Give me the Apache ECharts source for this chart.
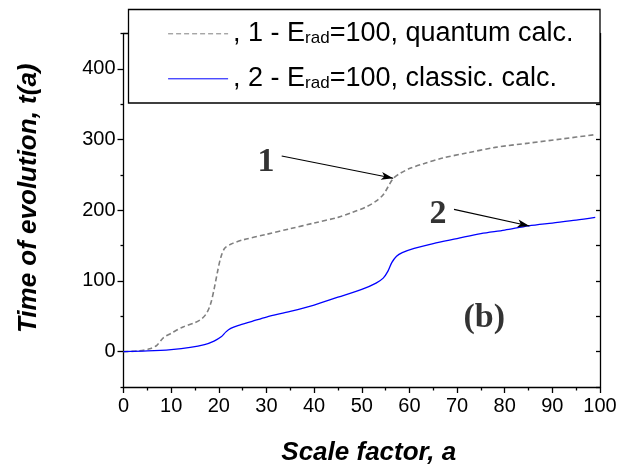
<!DOCTYPE html>
<html>
<head>
<meta charset="utf-8">
<script src="https://cdn.jsdelivr.net/npm/echarts@6/dist/echarts.min.js"></script>
<style>
html,body{margin:0;padding:0;background:#fff;}
#chart{width:629px;height:468px;}
</style>
</head>
<body>
<div id="chart"></div>
<script>
// ---- data ----
const quantumA = [0, 3, 5.5, 7, 8.4, 10, 12.5, 15, 16.5, 17.5, 18.3, 19, 19.7, 20.4, 21.2, 22.5, 25, 30, 35, 40, 45, 48, 51, 53, 54.5, 55.5, 56.6, 58, 60, 63, 67, 72, 78, 85, 92, 99];
const quantumT = [0, 1, 4, 9, 20, 26, 35, 41, 47, 55, 68, 88, 112, 133, 146, 152, 158, 166, 174, 182, 190, 197, 205, 213, 222, 233, 245, 252, 259, 266, 274, 281, 289, 295, 301, 307];
const classicA = [0, 5, 10, 14, 17, 19, 20.5, 21.5, 22.5, 24, 27, 30, 35, 40, 45, 50, 53, 54.5, 55.5, 56.3, 57.3, 58.5, 61, 65, 70, 75, 80, 85, 90, 95, 99];
const classicT = [0, 1, 3, 6, 10, 15, 21, 28, 33, 37, 43, 49, 57, 66, 77, 88, 97, 104, 114, 126, 135, 140, 146, 153, 160, 167, 172, 178, 182, 186, 190];
const seriesNames = ['quantum', 'classic'];
const legendLabels = [', 1 - E{sub|rad}=100, quantum calc.', ', 2 - E{sub|rad}=100, classic. calc.'];
const xTickValues = [0, 10, 20, 30, 40, 50, 60, 70, 80, 90, 100];
const yLabelValues = [0, 100, 200, 300, 400];
const yMinorValues = [-50, 50, 150, 250, 350, 450];
const annotationTexts = ['1', '2', '(b)'];
const annotationA = [29.9, 66, 75.7];
const annotationT = [268, 195, 48];
const arrowFromA = [33.2, 69.36];
const arrowFromT = [276.8, 201.4];
const arrowToA = [56.6, 85.2];
const arrowToT = [245.3, 177.8];

const quantum = quantumA.map((a, i) => [a, quantumT[i]]);
const classic = classicA.map((a, i) => [a, classicT[i]]);
const annots = annotationTexts.map((s, i) => [annotationA[i], annotationT[i], s]);
const arrows = arrowFromA.map((a, i) => [{coord: [a, arrowFromT[i]]}, {coord: [arrowToA[i], arrowToT[i]]}]);

const SANS = '"Liberation Sans", Arial, sans-serif';
const SERIF = '"Liberation Serif", "Times New Roman", serif';
const AX = {color: '#000', width: 1.3};

const chart = echarts.init(document.getElementById('chart'), null, {renderer: 'canvas'});
chart.setOption({
  animation: false,
  backgroundColor: '#fff',
  grid: {left: 123.5, right: 29, top: 33.6, bottom: 81, containLabel: false, outerBoundsMode: 'none'},
  xAxis: [{
    type: 'value', position: 'bottom', min: 0, max: 100, interval: 10,
    axisLine: {show: true, onZero: false, lineStyle: AX},
    axisTick: {show: true, inside: false, length: 6, lineStyle: AX},
    minorTick: {show: true, splitNumber: 2, length: 3.5, lineStyle: AX},
    splitLine: {show: false}, minorSplitLine: {show: false},
    axisLabel: {show: true, margin: 9, fontSize: 20, color: '#000', fontFamily: SANS, showMinLabel: true, showMaxLabel: true, customValues: xTickValues},
    name: 'Scale factor, a', nameLocation: 'middle', nameGap: 53,
    nameTextStyle: {fontSize: 26, fontWeight: 'bold', fontStyle: 'italic', color: '#000', fontFamily: SANS, padding: [0, 0, 0, 14]}
  }, {
    type: 'value', position: 'top', min: 0, max: 100, interval: 10,
    axisLine: {show: true, onZero: false, lineStyle: AX},
    axisTick: {show: false}, axisLabel: {show: false}, splitLine: {show: false}
  }],
  yAxis: [{
    type: 'value', position: 'left', min: -50, max: 450, interval: 50,
    axisLine: {show: true, onZero: false, lineStyle: AX},
    axisTick: {show: true, inside: false, length: 6, lineStyle: AX, customValues: yLabelValues},
    axisLabel: {show: true, margin: 8, fontSize: 20, color: '#000', fontFamily: SANS, customValues: yLabelValues},
    splitLine: {show: false},
    name: 'Time of evolution, t(a)', nameLocation: 'middle', nameGap: 82,
    nameTextStyle: {fontSize: 26, fontWeight: 'bold', fontStyle: 'italic', color: '#000', fontFamily: SANS, padding: [0, 0, 0, 24]}
  }, {
    type: 'value', position: 'right', min: -50, max: 450, interval: 50,
    axisLine: {show: true, onZero: false, lineStyle: AX},
    axisTick: {show: true, inside: true, length: 4, lineStyle: AX},
    axisLabel: {show: false}, splitLine: {show: false}
  }, {
    type: 'value', position: 'left', min: -50, max: 450, interval: 50,
    axisLine: {show: false, onZero: false},
    axisTick: {show: true, inside: false, length: 3, lineStyle: AX, customValues: yMinorValues},
    axisLabel: {show: false}, splitLine: {show: false}
  }],
  graphic: [{
    type: 'rect', z: 3,
    shape: {x: 128.5, y: 9.5, width: 471.5, height: 93.5},
    style: {fill: '#fff', stroke: '#000', lineWidth: 1.3}
  }],
  legend: {
    show: true, orient: 'vertical', left: 167.6, top: 20.3, padding: 0,
    itemWidth: 60, itemHeight: 27, itemGap: 18, z: 5,
    data: seriesNames,
    itemStyle: {opacity: 0},
    lineStyle: {width: 1},
    formatter: function (name) { return legendLabels[seriesNames.indexOf(name)]; },
    textStyle: {
      fontSize: 27, color: '#000', fontFamily: SANS, lineHeight: 27,
      rich: {sub: {fontSize: 17, lineHeight: 17, verticalAlign: 'bottom', color: '#000', fontFamily: SANS}}
    }
  },
  series: [{
    name: seriesNames[0], type: 'line', data: quantum, xAxisIndex: 0, yAxisIndex: 0,
    showSymbol: false, symbol: 'none', smooth: 0.3,
    lineStyle: {color: '#808080', width: 1.6, type: [5, 3]},
    itemStyle: {color: '#808080'}
  }, {
    name: seriesNames[1], type: 'line', data: classic, xAxisIndex: 0, yAxisIndex: 0,
    showSymbol: false, symbol: 'none', smooth: 0.3,
    lineStyle: {color: '#0000ff', width: 1.3, type: 'solid'},
    itemStyle: {color: '#0000ff'}
  }, {
    name: 'annotations', type: 'scatter', data: annots, xAxisIndex: 0, yAxisIndex: 0,
    symbolSize: 0, silent: true,
    label: {
      show: true, position: 'inside', formatter: p => p.data[2],
      fontFamily: SERIF, fontWeight: 'bold', color: '#000',
      fontSize: 34
    },
    markLine: {
      silent: true, animation: false,
      symbol: ['none', 'arrow'], symbolSize: [6, 12],
      label: {show: false},
      lineStyle: {color: '#000', width: 1.2, type: 'solid'},
      data: arrows
    }
  }]
});
</script>
</body>
</html>
